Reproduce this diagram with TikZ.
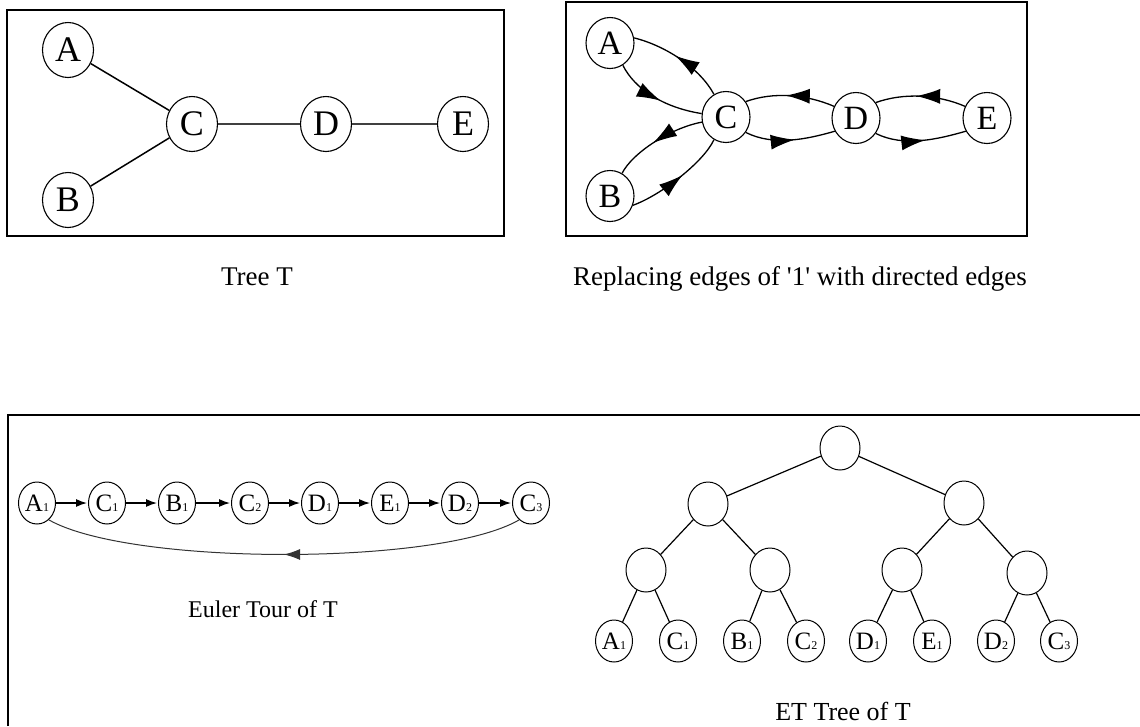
\documentclass[tikz,border=0pt]{standalone}
\usepackage{fontspec}
\setmainfont{Liberation Serif}
\usetikzlibrary{shapes.geometric,arrows.meta,decorations.markings}
\newcommand{\mysub}[1]{{\fontsize{12}{12}\selectfont #1}}
\begin{document}
\begin{tikzpicture}[x=1pt,y=-1pt,
  frame/.style={line width=2.2pt},
  tnode/.style={draw,ellipse,line width=1.1pt,minimum width=51,minimum height=55,inner sep=0pt,font=\fontsize{36}{36}\selectfont},
  dnode/.style={draw,ellipse,line width=1.1pt,minimum width=48,minimum height=51,inner sep=0pt,font=\fontsize{34}{34}\selectfont},
  enode/.style={draw,ellipse,line width=1pt,minimum width=37,minimum height=42,inner sep=0pt,font=\fontsize{25}{25}\selectfont},
  inode/.style={draw,ellipse,line width=1pt,minimum width=40,minimum height=44,inner sep=0pt},
  tedge/.style={line width=1.5pt},
  gedge/.style={line width=1.5pt,black!75},
  cedge/.style={line width=1.3pt,postaction={decorate},decoration={markings,mark=at position 0.55 with {\arrow{Latex[length=24pt,width=15pt]}}}},
  earrow/.style={line width=1.3pt,-{Latex[length=11pt,width=8pt]},shorten >=1pt},
  retarc/.style={line width=1pt,black!80,postaction={decorate},decoration={markings,mark=at position 0.5 with {\arrow{Latex[length=16pt,width=11pt]}}}},
  tredge/.style={line width=1.2pt},
  caption/.style={anchor=base,font=\fontsize{27}{27}\selectfont,inner sep=0pt}]
\useasboundingbox (0,0) rectangle (1140,726);

% ---------- Tree T ----------
\draw[frame] (7,10) rectangle (504,236);
\node[tnode] (tA) at (68,50) {A};
\node[tnode] (tB) at (68,200) {B};
\node[tnode] (tC) at (192,124) {C};
\node[tnode] (tD) at (326,124) {D};
\node[tnode] (tE) at (463,124) {E};
\draw[tedge] (tA) -- (tC);
\draw[tedge] (tB) -- (tC);
\draw[gedge] (tC) -- (tD);
\draw[gedge] (tD) -- (tE);
\node[caption] (capT) at (257,285) {Tree T};

% ---------- Directed version ----------
\draw[frame] (566,2) rectangle (1027,236);
\node[dnode] (dA) at (610,43) {A};
\node[dnode] (dB) at (610,196) {B};
\node[dnode] (dC) at (726,117) {C};
\node[dnode] (dD) at (856,118) {D};
\node[dnode] (dE) at (987,118) {E};
% C -> A (upper)
\draw[cedge] (dC.118) .. controls +(-14,-26) and +(32,8) .. (dA.12);
% A -> C (lower)
\draw[cedge] (dA.300) .. controls +(12,24) and +(-38,-6) .. (dC.172);
% C -> B (upper)
\draw[cedge] (dC.192) .. controls +(-32,6) and +(10,-20) .. (dB.62);
% B -> C (lower)
\draw[cedge] (dB.338) .. controls +(28,-10) and +(-10,22) .. (dC.242);
% D -> C (upper)
\draw[cedge] (dD.152) .. controls +(-28,-12) and +(28,-10) .. (dC.38);
% C -> D (lower)
\draw[cedge] (dC.322) .. controls +(28,14) and +(-28,8) .. (dD.212);
% E -> D (upper)
\draw[cedge] (dE.152) .. controls +(-28,-12) and +(28,-10) .. (dD.38);
% D -> E (lower)
\draw[cedge] (dD.322) .. controls +(28,14) and +(-28,8) .. (dE.212);
\node[caption] (capD) at (800,285) {Replacing edges of \textquotesingle1\textquotesingle\ with directed edges};

% ---------- Bottom panel ----------
\draw[frame] (8,726) -- (8,415) -- (1140,415);

% Euler tour
\node[enode] (e1) at (37,503) {A\mysub{1}};
\node[enode] (e2) at (107,503) {C\mysub{1}};
\node[enode] (e3) at (177,503) {B\mysub{1}};
\node[enode] (e4) at (250,503) {C\mysub{2}};
\node[enode] (e5) at (320,503) {D\mysub{1}};
\node[enode] (e6) at (390,503) {E\mysub{1}};
\node[enode] (e7) at (460,503) {D\mysub{2}};
\node[enode] (e8) at (531,503) {C\mysub{3}};
\draw[earrow] (e1) -- (e2);
\draw[earrow] (e2) -- (e3);
\draw[earrow] (e3) -- (e4);
\draw[earrow] (e4) -- (e5);
\draw[earrow] (e5) -- (e6);
\draw[earrow] (e6) -- (e7);
\draw[earrow] (e7) -- (e8);
\draw[retarc] (e8.235) .. controls (440,566) and (130,566) .. (e1.305);
\node[anchor=base,inner sep=0pt,font=\fontsize{24}{24}\selectfont] (capE) at (263,617) {Euler Tour of T};

% ET tree
\node[inode] (r0) at (840,448) {};
\node[inode] (l1) at (708,504) {};
\node[inode] (r1) at (964,503) {};
\node[inode] (ll) at (646,570) {};
\node[inode] (lr) at (770,570) {};
\node[inode] (rl) at (902,570) {};
\node[inode] (rr) at (1027,573) {};
\node[enode] (f1) at (614,641) {A\mysub{1}};
\node[enode] (f2) at (678,641) {C\mysub{1}};
\node[enode] (f3) at (742,641) {B\mysub{1}};
\node[enode] (f4) at (806,641) {C\mysub{2}};
\node[enode] (f5) at (868,641) {D\mysub{1}};
\node[enode] (f6) at (932,641) {E\mysub{1}};
\node[enode] (f7) at (996,641) {D\mysub{2}};
\node[enode] (f8) at (1059,641) {C\mysub{3}};
\draw[tredge] (r0) -- (l1);
\draw[tredge] (r0) -- (r1);
\draw[tredge] (l1) -- (ll);
\draw[tredge] (l1) -- (lr);
\draw[tredge] (r1) -- (rl);
\draw[tredge] (r1) -- (rr);
\draw[tredge] (ll) -- (f1);
\draw[tredge] (ll) -- (f2);
\draw[tredge] (lr) -- (f3);
\draw[tredge] (lr) -- (f4);
\draw[tredge] (rl) -- (f5);
\draw[tredge] (rl) -- (f6);
\draw[tredge] (rr) -- (f7);
\draw[tredge] (rr) -- (f8);
\node[anchor=base,inner sep=0pt,font=\fontsize{26}{26}\selectfont] (capET) at (843,720) {ET Tree of T};
\end{tikzpicture}
\end{document}
